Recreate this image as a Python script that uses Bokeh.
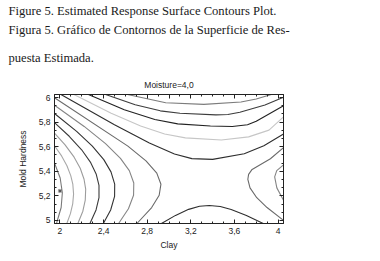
from bokeh.plotting import figure
from bokeh.models import Range1d, LinearAxis, Legend, LegendItem, FixedTicker, Title
from bokeh.embed import file_html
from bokeh.resources import INLINE

# ---- data (Clay on x, Mold Hardness on y) ----
levels = [0, 3, 6, 9, 12, 15, 18, 21, 24, 27, 30, 33]
level_labels = ["0,0", "3,0", "6,0", "9,0", "12,0", "15,0", "18,0", "21,0", "24,0", "27,0", "30,0", "33,0"]

c0_x = [1.950, 2.002, 2.022, 2.011, 1.968]
c0_y = [5.468, 5.345, 5.225, 5.105, 4.975]
c3_x = [1.950, 2.015, 2.064, 2.099, 2.118, 2.125, 2.117, 2.096, 2.063]
c3_y = [5.608, 5.525, 5.445, 5.365, 5.295, 5.215, 5.135, 5.055, 4.975]
c6_x = [1.950, 2.047, 2.130, 2.186, 2.221, 2.236, 2.232, 2.210, 2.164]
c6_y = [5.711, 5.615, 5.515, 5.425, 5.335, 5.255, 5.165, 5.075, 4.975]
c9_x = [1.950, 2.085, 2.199, 2.279, 2.333, 2.358, 2.358, 2.331, 2.275]
c9_y = [5.796, 5.685, 5.575, 5.475, 5.375, 5.285, 5.185, 5.085, 4.975]
c12_x = [1.950, 2.153, 2.297, 2.402, 2.468, 2.502, 2.501, 2.465, 2.398]
c12_y = [5.870, 5.725, 5.605, 5.495, 5.395, 5.295, 5.195, 5.085, 4.975]
c15_left_x = [1.950, 2.222, 2.418, 2.555, 2.636, 2.677, 2.675, 2.628, 2.538]
c15_left_y = [5.937, 5.765, 5.625, 5.505, 5.405, 5.305, 5.205, 5.095, 4.975]
c15_right_x = [4.050, 3.989, 3.969, 3.988, 4.050]
c15_right_y = [5.165, 5.265, 5.355, 5.405, 5.452]
c18_left_x = [1.950, 2.623, 2.789, 2.888, 2.926, 2.910, 2.841, 2.706]
c18_left_y = [5.998, 5.605, 5.485, 5.385, 5.295, 5.205, 5.105, 4.975]
c18_right_x = [4.050, 3.899, 3.805, 3.743, 3.723, 3.730, 3.762, 3.930, 4.050]
c18_right_y = [5.000, 5.105, 5.185, 5.265, 5.335, 5.375, 5.415, 5.502, 5.593]
c21_bottom_x = [3.864, 3.710, 3.570, 3.470, 3.370, 3.280, 3.180, 3.060, 2.931]
c21_bottom_y = [4.975, 5.040, 5.089, 5.113, 5.122, 5.115, 5.090, 5.041, 4.975]
c21_top_x = [2.009, 2.500, 2.820, 3.050, 3.210, 3.400, 3.690, 3.870, 4.050]
c21_top_y = [6.025, 5.779, 5.630, 5.541, 5.503, 5.497, 5.543, 5.608, 5.704]
c24_x = [2.128, 2.470, 2.740, 2.960, 3.150, 3.480, 3.730, 3.917, 4.050]
c24_y = [6.025, 5.873, 5.769, 5.704, 5.672, 5.655, 5.680, 5.735, 5.843]
c27_x = [2.261, 2.590, 2.870, 3.080, 3.380, 3.580, 3.720, 3.800, 4.050]
c27_y = [6.025, 5.901, 5.821, 5.786, 5.769, 5.765, 5.779, 5.807, 5.934]
c30_x = [2.419, 2.690, 2.920, 3.100, 3.430, 3.540, 3.650, 3.880, 4.050]
c30_y = [6.025, 5.942, 5.892, 5.872, 5.859, 5.862, 5.880, 5.939, 6.003]
c33_x = [2.619, 2.970, 3.320, 3.660, 3.800, 3.939]
c33_y = [6.025, 5.958, 5.945, 5.964, 5.988, 6.025]

marker_x = [2.0]
marker_y = [5.24]

xt = [2, 2.4, 2.8, 3.2, 3.6, 4]
xt_lab = ["2", "2,4", "2,8", "3,2", "3,6", "4"]
yt = [5, 5.2, 5.4, 5.6, 5.8, 6]
yt_lab = ["5", "5,2", "5,4", "5,6", "5,8", "6"]

caption_lines = ["Figure 5. Estimated Response Surface Contours Plot.",
                 "Figura 5. Gráfico de Contornos de la Superficie de Res-",
                 "puesta Estimada."]
plot_title = "Moisture=4,0"
legend_title = "Defective compor"

contours = [
    ([c0_x], [c0_y]),
    ([c3_x], [c3_y]),
    ([c6_x], [c6_y]),
    ([c9_x], [c9_y]),
    ([c12_x], [c12_y]),
    ([c15_left_x, c15_right_x], [c15_left_y, c15_right_y]),
    ([c18_left_x, c18_right_x], [c18_left_y, c18_right_y]),
    ([c21_bottom_x, c21_top_x], [c21_bottom_y, c21_top_y]),
    ([c24_x], [c24_y]),
    ([c27_x], [c27_y]),
    ([c30_x], [c30_y]),
    ([c33_x], [c33_y]),
]
colors = ["#7a7a7a", "#a8a8a8", "#9c9c9c", "#3a3a3a", "#333333", "#858585",
          "#6a6a6a", "#2e2e2e", "#c6c6c6", "#222222", "#3c3c3c", "#7c7c7c"]

# ---- figure: frame 229 x 129, top-left corner at (54, 93) ----
p = figure(frame_width=229, frame_height=129,
           x_range=Range1d(1.95, 4.05), y_range=Range1d(4.975, 6.025),
           output_backend="svg", toolbar_location=None,
           min_border_left=54, min_border_right=0, min_border_top=93, min_border_bottom=36,
           x_axis_label="Clay", y_axis_label="Mold Hardness")
p.grid.visible = False
p.outline_line_color = "#222222"
p.background_fill_color = "white"
p.border_fill_color = "white"

xt_minor = [round(1.95 + 0.05 + 0.1 * i, 2) for i in range(21)]
yt_minor = [round(5 + i * 0.2 / 3, 4) for i in range(16)]


def style_axis(ax):
    ax.axis_line_color = "#222222"
    ax.major_tick_line_color = "#222222"
    ax.minor_tick_line_color = "#222222"
    ax.major_tick_in = 4
    ax.major_tick_out = 0
    ax.minor_tick_in = 2
    ax.minor_tick_out = 0
    ax.major_label_text_font = "Liberation Sans"
    ax.major_label_text_font_size = "8.5px"
    ax.major_label_text_color = "#222222"
    ax.major_label_standoff = 4
    ax.axis_label_text_font = "Liberation Sans"
    ax.axis_label_text_font_size = "8.5px"
    ax.axis_label_text_font_style = "normal"
    ax.axis_label_text_color = "#222222"


p.xaxis.ticker = FixedTicker(ticks=xt, minor_ticks=xt_minor)
p.xaxis.major_label_overrides = {v: s for v, s in zip(xt, xt_lab)}
p.yaxis.ticker = FixedTicker(ticks=yt, minor_ticks=yt_minor)
p.yaxis.major_label_overrides = {v: s for v, s in zip(yt, yt_lab)}
style_axis(p.xaxis[0])
style_axis(p.yaxis[0])
p.xaxis.axis_label_standoff = 3
p.yaxis.axis_label_standoff = 8

# right frame edge: inward ticks only
ax_r = LinearAxis(ticker=FixedTicker(ticks=yt, minor_ticks=yt_minor))
style_axis(ax_r)
ax_r.major_label_overrides = {v: "" for v in yt}
ax_r.major_label_standoff = 11
p.add_layout(ax_r, "right")

# top frame edge: inward ticks, the plot title sits centred above the frame
ax_t = LinearAxis(ticker=FixedTicker(ticks=xt + [3.0], minor_ticks=xt_minor))
style_axis(ax_t)
ax_t.major_label_overrides = {**{v: "" for v in xt}, 3.0: plot_title}
ax_t.major_label_standoff = 5
p.add_layout(ax_t, "above")

items = []
for lab_txt, col, (cxs, cys) in zip(level_labels, colors, contours):
    r = p.multi_line(xs=cxs, ys=cys, line_color=col, line_width=1.1)
    items.append(LegendItem(label=lab_txt, renderers=[r]))

p.scatter(marker_x, marker_y, marker="asterisk", size=4, line_color="#555555")

leg = Legend(items=items, location="top_left", margin=1, padding=0, spacing=1,
             glyph_width=13, glyph_height=10, label_height=10, label_standoff=4,
             border_line_color=None, background_fill_alpha=0,
             title=legend_title, title_standoff=0,
             title_text_font="Liberation Sans", title_text_font_size="8.5px",
             title_text_font_style="normal", title_text_color="#222222",
             label_text_font="Liberation Sans", label_text_font_size="8.5px",
             label_text_color="#222222")
p.add_layout(leg, "right")

# caption lines, stacked outward from the frame (innermost first)
for txt, sd in [(caption_lines[2], 23), (caption_lines[1], 2), (caption_lines[0], 3)]:
    p.add_layout(Title(text=txt, align="left", offset=-46, standoff=sd,
                       text_font="Liberation Serif", text_font_size="12.6px",
                       text_font_style="normal", text_color="#1a1a1a"), "above")

open("out.html", "w").write(file_html(p, INLINE))
